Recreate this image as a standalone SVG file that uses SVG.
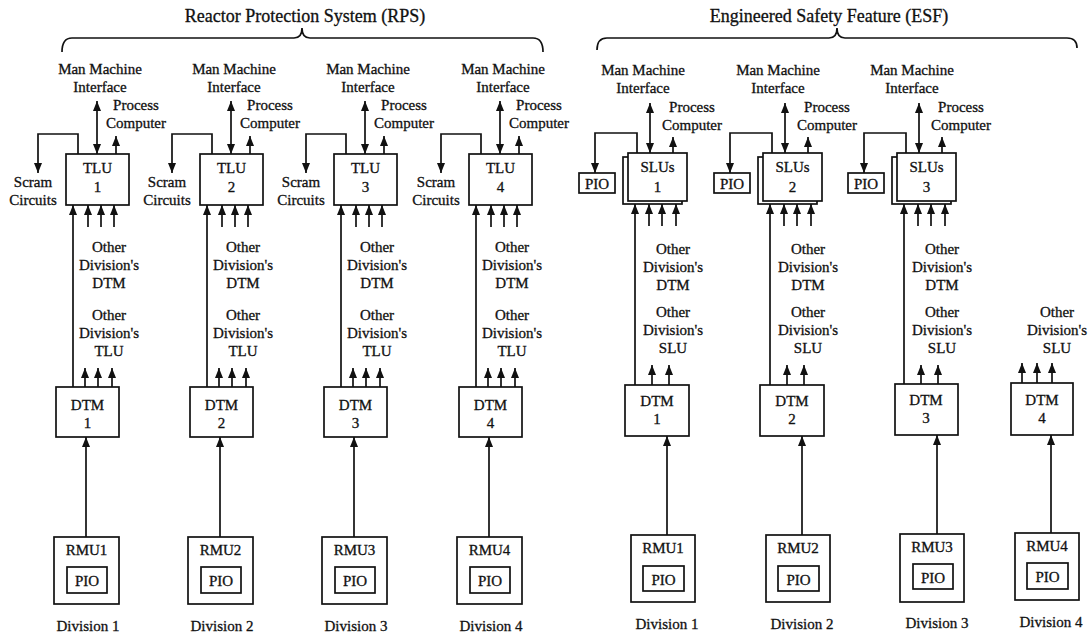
<svg xmlns="http://www.w3.org/2000/svg" width="1091" height="635" viewBox="0 0 1091 635" font-family="Liberation Serif, serif">
<style>
text{font-family:"Liberation Serif",serif;font-size:15px;fill:#111;stroke:#111;stroke-width:0.3;text-anchor:middle}
text.title{font-size:18px}
.box{fill:#fff;stroke:#111;stroke-width:1.7}
.ln{fill:none;stroke:#111;stroke-width:1.7}
.ar{fill:none;stroke:#111;stroke-width:1.7;marker-end:url(#ah)}
.dar{fill:none;stroke:#111;stroke-width:1.7;marker-end:url(#ah);marker-start:url(#ah)}
</style>
<defs>
<marker id="ah" markerUnits="userSpaceOnUse" markerWidth="10" markerHeight="8" refX="10" refY="4" orient="auto-start-reverse"><path d="M0,0 L10,4 L0,8 z" fill="#111"/></marker>
</defs>
<rect width="1091" height="635" fill="#fff"/>
<g id="brackets">
<text class="title" x="305" y="22">Reactor Protection System (RPS)</text>
<path class="ln" d="M62,52 Q62,38 72,38 L294,38 Q302,38 302,28 Q302,38 310,38 L533,38 Q543,38 543,52"/>
<text class="title" x="829" y="22">Engineered Safety Feature (ESF)</text>
<path class="ln" d="M597,50 Q597,38 607,38 L829,38 Q837,38 837,28 Q837,38 845,38 L1067,38 Q1077,38 1077,48"/>
</g>
<g id="connectors">
<g transform="translate(0,0)">
<path class="dar" d="M97,101 L97,154"/><path class="ar" d="M116,154 L116,136"/>
<path class="ar" d="M78,154 L78,134 L38,134 L38,173"/>
<path class="ar" d="M73,387 L73,205"/><path class="ar" d="M88,227 L88,205"/><path class="ar" d="M101,227 L101,205"/><path class="ar" d="M114,227 L114,205"/>
<path class="ar" d="M85,387 L85,368"/><path class="ar" d="M98,387 L98,368"/><path class="ar" d="M112,387 L112,368"/>
<path class="ar" d="M86,537 L86,437"/>
</g>
<g transform="translate(134,0)">
<path class="dar" d="M97,101 L97,154"/><path class="ar" d="M116,154 L116,136"/>
<path class="ar" d="M78,154 L78,134 L38,134 L38,173"/>
<path class="ar" d="M73,387 L73,205"/><path class="ar" d="M88,227 L88,205"/><path class="ar" d="M101,227 L101,205"/><path class="ar" d="M114,227 L114,205"/>
<path class="ar" d="M85,387 L85,368"/><path class="ar" d="M98,387 L98,368"/><path class="ar" d="M112,387 L112,368"/>
<path class="ar" d="M86,537 L86,437"/>
</g>
<g transform="translate(268,0)">
<path class="dar" d="M97,101 L97,154"/><path class="ar" d="M116,154 L116,136"/>
<path class="ar" d="M78,154 L78,134 L38,134 L38,173"/>
<path class="ar" d="M73,387 L73,205"/><path class="ar" d="M88,227 L88,205"/><path class="ar" d="M101,227 L101,205"/><path class="ar" d="M114,227 L114,205"/>
<path class="ar" d="M85,387 L85,368"/><path class="ar" d="M98,387 L98,368"/><path class="ar" d="M112,387 L112,368"/>
<path class="ar" d="M86,537 L86,437"/>
</g>
<g transform="translate(403,0)">
<path class="dar" d="M97,101 L97,154"/><path class="ar" d="M116,154 L116,136"/>
<path class="ar" d="M78,154 L78,134 L38,134 L38,173"/>
<path class="ar" d="M73,387 L73,205"/><path class="ar" d="M88,227 L88,205"/><path class="ar" d="M101,227 L101,205"/><path class="ar" d="M114,227 L114,205"/>
<path class="ar" d="M85,387 L85,368"/><path class="ar" d="M98,387 L98,368"/><path class="ar" d="M112,387 L112,368"/>
<path class="ar" d="M86,537 L86,437"/>
</g>
<g transform="translate(0,0)">
<path class="dar" d="M650,103 L650,153"/><path class="ar" d="M673,153 L673,137"/>
<path class="ar" d="M637,153 L637,133 L595,133 L595,173"/>
<path class="ar" d="M635,385 L635,204"/><path class="ar" d="M649,226 L649,204"/><path class="ar" d="M662,226 L662,204"/><path class="ar" d="M676,226 L676,204"/>
<path class="ar" d="M652,385 L652,365"/><path class="ar" d="M669,385 L669,365"/>
<path class="ar" d="M667,535 L667,436"/>
</g>
<g transform="translate(135,0)">
<path class="dar" d="M650,103 L650,153"/><path class="ar" d="M673,153 L673,137"/>
<path class="ar" d="M637,153 L637,133 L595,133 L595,173"/>
<path class="ar" d="M635,385 L635,204"/><path class="ar" d="M649,226 L649,204"/><path class="ar" d="M662,226 L662,204"/><path class="ar" d="M676,226 L676,204"/>
<path class="ar" d="M652,385 L652,365"/><path class="ar" d="M669,385 L669,365"/>
<path class="ar" d="M667,535 L667,436"/>
</g>
<g transform="translate(269,0)">
<path class="dar" d="M650,103 L650,153"/><path class="ar" d="M673,153 L673,137"/>
<path class="ar" d="M637,153 L637,133 L595,133 L595,173"/>
<path class="ar" d="M635,384 L635,204"/><path class="ar" d="M649,226 L649,204"/><path class="ar" d="M662,226 L662,204"/><path class="ar" d="M676,226 L676,204"/>
<path class="ar" d="M652,384 L652,365"/><path class="ar" d="M669,384 L669,365"/>
<path class="ar" d="M668,534 L668,435"/>
</g>
<path class="ar" d="M1022,383 L1022,363"/><path class="ar" d="M1037,383 L1037,363"/><path class="ar" d="M1052,383 L1052,363"/>
<path class="ar" d="M1051,533 L1051,435"/>
</g>
<g id="rps-div1">
<text x="100" y="74">Man Machine</text><text x="100" y="92">Interface</text>
<text x="136" y="110">Process</text><text x="136" y="128">Computer</text>
<text x="33" y="187">Scram</text><text x="33" y="205">Circuits</text>
<rect class="box" x="66" y="154" width="63" height="51"/><text x="97.5" y="173">TLU</text><text x="97.5" y="192">1</text>
<text x="109" y="252">Other</text><text x="109" y="270">Division's</text><text x="109" y="288">DTM</text>
<text x="109" y="320">Other</text><text x="109" y="338">Division's</text><text x="109" y="356">TLU</text>
<rect class="box" x="56" y="387" width="63" height="50"/><text x="87.5" y="410">DTM</text><text x="87.5" y="428">1</text>
<rect class="box" x="54" y="537" width="65" height="67"/><text x="86.5" y="555">RMU1</text>
<rect class="box" x="67" y="567" width="40" height="26"/><text x="87" y="586">PIO</text>
<text x="88" y="631">Division 1</text>
</g>
<g id="rps-div2" transform="translate(134,0)">
<text x="100" y="74">Man Machine</text><text x="100" y="92">Interface</text>
<text x="136" y="110">Process</text><text x="136" y="128">Computer</text>
<text x="33" y="187">Scram</text><text x="33" y="205">Circuits</text>
<rect class="box" x="66" y="154" width="63" height="51"/><text x="97.5" y="173">TLU</text><text x="97.5" y="192">2</text>
<text x="109" y="252">Other</text><text x="109" y="270">Division's</text><text x="109" y="288">DTM</text>
<text x="109" y="320">Other</text><text x="109" y="338">Division's</text><text x="109" y="356">TLU</text>
<rect class="box" x="56" y="387" width="63" height="50"/><text x="87.5" y="410">DTM</text><text x="87.5" y="428">2</text>
<rect class="box" x="54" y="537" width="65" height="67"/><text x="86.5" y="555">RMU2</text>
<rect class="box" x="67" y="567" width="40" height="26"/><text x="87" y="586">PIO</text>
<text x="88" y="631">Division 2</text>
</g>
<g id="rps-div3" transform="translate(268,0)">
<text x="100" y="74">Man Machine</text><text x="100" y="92">Interface</text>
<text x="136" y="110">Process</text><text x="136" y="128">Computer</text>
<text x="33" y="187">Scram</text><text x="33" y="205">Circuits</text>
<rect class="box" x="66" y="154" width="63" height="51"/><text x="97.5" y="173">TLU</text><text x="97.5" y="192">3</text>
<text x="109" y="252">Other</text><text x="109" y="270">Division's</text><text x="109" y="288">DTM</text>
<text x="109" y="320">Other</text><text x="109" y="338">Division's</text><text x="109" y="356">TLU</text>
<rect class="box" x="56" y="387" width="63" height="50"/><text x="87.5" y="410">DTM</text><text x="87.5" y="428">3</text>
<rect class="box" x="54" y="537" width="65" height="67"/><text x="86.5" y="555">RMU3</text>
<rect class="box" x="67" y="567" width="40" height="26"/><text x="87" y="586">PIO</text>
<text x="88" y="631">Division 3</text>
</g>
<g id="rps-div4" transform="translate(403,0)">
<text x="100" y="74">Man Machine</text><text x="100" y="92">Interface</text>
<text x="136" y="110">Process</text><text x="136" y="128">Computer</text>
<text x="33" y="187">Scram</text><text x="33" y="205">Circuits</text>
<rect class="box" x="66" y="154" width="63" height="51"/><text x="97.5" y="173">TLU</text><text x="97.5" y="192">4</text>
<text x="109" y="252">Other</text><text x="109" y="270">Division's</text><text x="109" y="288">DTM</text>
<text x="109" y="320">Other</text><text x="109" y="338">Division's</text><text x="109" y="356">TLU</text>
<rect class="box" x="56" y="387" width="63" height="50"/><text x="87.5" y="410">DTM</text><text x="87.5" y="428">4</text>
<rect class="box" x="54" y="537" width="65" height="67"/><text x="86.5" y="555">RMU4</text>
<rect class="box" x="67" y="567" width="40" height="26"/><text x="87" y="586">PIO</text>
<text x="88" y="631">Division 4</text>
</g>
<g id="esf-div1">
<text x="643" y="75">Man Machine</text><text x="643" y="93">Interface</text>
<text x="692" y="112">Process</text><text x="692" y="130">Computer</text>
<rect class="box" x="579" y="173" width="36" height="20"/><text x="597" y="189">PIO</text>
<rect class="box" x="623" y="157" width="59" height="47"/><rect class="box" x="628" y="153" width="59" height="48"/>
<text x="657.5" y="172">SLUs</text><text x="657.5" y="192">1</text>
<text x="673" y="254">Other</text><text x="673" y="272">Division's</text><text x="673" y="290">DTM</text>
<text x="673" y="317">Other</text><text x="673" y="335">Division's</text><text x="673" y="353">SLU</text>
<rect class="box" x="625" y="385" width="64" height="51"/><text x="657" y="406">DTM</text><text x="657" y="424">1</text>
<rect class="box" x="631" y="535" width="64" height="67"/><text x="663" y="553">RMU1</text>
<rect class="box" x="643" y="566" width="41" height="25"/><text x="663.5" y="585">PIO</text>
<text x="667" y="629">Division 1</text>
</g>
<g id="esf-div2" transform="translate(135,0)">
<text x="643" y="75">Man Machine</text><text x="643" y="93">Interface</text>
<text x="692" y="112">Process</text><text x="692" y="130">Computer</text>
<rect class="box" x="579" y="173" width="36" height="20"/><text x="597" y="189">PIO</text>
<rect class="box" x="623" y="157" width="59" height="47"/><rect class="box" x="628" y="153" width="59" height="48"/>
<text x="657.5" y="172">SLUs</text><text x="657.5" y="192">2</text>
<text x="673" y="254">Other</text><text x="673" y="272">Division's</text><text x="673" y="290">DTM</text>
<text x="673" y="317">Other</text><text x="673" y="335">Division's</text><text x="673" y="353">SLU</text>
<rect class="box" x="625" y="385" width="64" height="51"/><text x="657" y="406">DTM</text><text x="657" y="424">2</text>
<rect class="box" x="631" y="535" width="64" height="67"/><text x="663" y="553">RMU2</text>
<rect class="box" x="643" y="566" width="41" height="25"/><text x="663.5" y="585">PIO</text>
<text x="667" y="629">Division 2</text>
</g>
<g id="esf-div3" transform="translate(269,0)">
<text x="643" y="75">Man Machine</text><text x="643" y="93">Interface</text>
<text x="692" y="112">Process</text><text x="692" y="130">Computer</text>
<rect class="box" x="579" y="173" width="36" height="20"/><text x="597" y="189">PIO</text>
<rect class="box" x="623" y="157" width="59" height="47"/><rect class="box" x="628" y="153" width="59" height="48"/>
<text x="657.5" y="172">SLUs</text><text x="657.5" y="192">3</text>
<text x="673" y="254">Other</text><text x="673" y="272">Division's</text><text x="673" y="290">DTM</text>
<text x="673" y="317">Other</text><text x="673" y="335">Division's</text><text x="673" y="353">SLU</text>
<rect class="box" x="626" y="384" width="63" height="51"/><text x="657" y="405">DTM</text><text x="657" y="423">3</text>
<rect class="box" x="631" y="534" width="64" height="68"/><text x="663" y="552">RMU3</text>
<rect class="box" x="644" y="564" width="40" height="25"/><text x="664" y="583">PIO</text>
<text x="668" y="628">Division 3</text>
</g>
<g id="esf-div4">
<text x="1057" y="317">Other</text><text x="1057" y="335">Division's</text><text x="1057" y="353">SLU</text>
<rect class="box" x="1011" y="383" width="62" height="52"/><text x="1042" y="405">DTM</text><text x="1042" y="423">4</text>
<rect class="box" x="1015" y="533" width="64" height="67"/><text x="1047" y="551">RMU4</text>
<rect class="box" x="1027" y="563" width="41" height="26"/><text x="1047.5" y="582">PIO</text>
<text x="1051" y="627">Division 4</text>
</g>
</svg>
